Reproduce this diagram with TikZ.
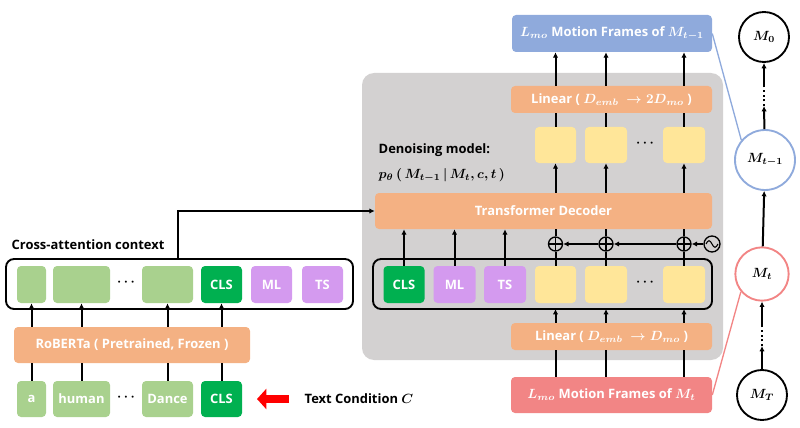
\documentclass[tikz,border=0pt]{standalone}
\usepackage{fontspec}
\setmainfont{Open Sans}
\usetikzlibrary{arrows.meta}

\definecolor{word green}{HTML}{A9D18E}
\definecolor{cls green}{HTML}{00B050}
\definecolor{tag purple}{HTML}{D49AEF}
\definecolor{block orange}{HTML}{F4B183}
\definecolor{frame yellow}{HTML}{FFE699}
\definecolor{noisy red}{HTML}{F28585}
\definecolor{clean blue}{HTML}{8FAADC}
\definecolor{panel gray}{HTML}{D3D1D1}
\tikzset{
  sz/.style 2 args={minimum width=#1*0.75pt, minimum height=#2*0.75pt},
  token/.style={rounded corners=3pt, inner sep=0pt, text=white},
  block/.style={token, fill=block orange},
  group/.style={draw, line width=1.4pt, rounded corners=6pt},
  state/.style={circle, draw, line width=1.4pt, fill=white, inner sep=0pt, minimum size=37.5pt}
  }
\tikzstyle{wire} = [draw, line width=1.5pt, -]
\tikzstyle{feed} = [draw, line width=1.5pt, -{Latex[length=4pt,width=4pt]}]
\tikzstyle{adder} = [circle, draw, line width=1pt, minimum size=10.5pt, inner sep=0pt,
  path picture={\draw[line width=1pt] (path picture bounding box.north) -- (path picture bounding box.south)
    (path picture bounding box.west) -- (path picture bounding box.east);}]
\def\words{{31.5/29/a/a}, {81.5/57/human/human}, {167.5/51/Dance/dance}}
\def\frames{{555.5/41/f1}, {606/42/f2}, {684/42/f3}}

\begin{document}
\begin{tikzpicture}[x=0.75pt, y=-0.75pt, font=\fontsize{9.7}{11}\selectfont\bfseries\boldmath]
    \useasboundingbox (0,0) rectangle (800,428);

    % Denoising panel
    \fill[panel gray, rounded corners=9pt] (362,73) rectangle (723,360);

    % Text condition tokens
    \foreach \x/\w/\word/\name in \words
      \node[token, fill=word green, sz={\w}{36}] (in-\name) at (\x,399) {\word};
    \node[token, fill=cls green, sz={41}{36}] (in-cls) at (221.5,399) {CLS};
    \node (in-dots) at (126,397) {$\cdots$};
    \node[block, sz={236}{36}] (roberta) at (132,345) {RoBERTa ( Pretrained, Frozen )};

    % Cross-attention context
    \draw[group] (6,259) rectangle (353,309);
    \node[anchor=west] (ctx-title) at (7,245) {Cross-attention context};
    \foreach \x/\w/\word/\name in \words
      \node[token, fill=word green, sz={\w}{37}] (ctx-\name) at (\x,284.5) {};
    \node[token, fill=cls green, sz={41}{37}] (ctx-cls) at (221.5,284.5) {CLS};
    \node[token, fill=tag purple, sz={41}{37}] (ctx-ml) at (271.5,284.5) {ML};
    \node[token, fill=tag purple, sz={41}{37}] (ctx-ts) at (322.5,284.5) {TS};
    \node (ctx-dots) at (126,282.5) {$\cdots$};
    \coordinate (ctx-out) at (178,259);

    % Text condition label
    \node[anchor=west] (cond) at (300,399) {Text Condition $C$};
    \coordinate (cond-tail) at (289,399);
    \coordinate (cond-head) at (257,399);

    % Transformer input
    \draw[group] (373,259) rectangle (712,309);
    \node[token, fill=cls green, sz={41}{37}] (in-cls2) at (404,284.5) {CLS};
    \node[token, fill=tag purple, sz={42}{37}] (in-ml) at (454.5,284.5) {ML};
    \node[token, fill=tag purple, sz={42}{37}] (in-ts) at (505,284.5) {TS};
    \foreach \x/\w/\name in \frames
      \node[token, fill=frame yellow, sz={\w}{37}] (in-\name) at (\x,284.5) {};
    \node (in-fdots) at (645,282.5) {$\cdots$};
    \node[block, sz={201}{27}] (lin-in) at (611.5,336.5) {Linear ( $D_{emb}\ \rightarrow D_{mo}$ )};
    \node[token, fill=noisy red, sz={201}{36}] (noisy) at (611.5,395) {$L_{mo}$ Motion Frames of $M_t$};

    % Positional encoding
    \foreach \x/\w/\name in \frames
      \node[adder] (add-\name) at (\x,244) {};
    \node[circle, draw, line width=1pt, minimum size=12pt, inner sep=0pt,
      path picture={\draw[line width=0.8pt] ([xshift=-4.5pt]path picture bounding box.center)
        sin ++(2.25pt,2.5pt) cos ++(2.25pt,-2.5pt) sin ++(2.25pt,-2.5pt) cos ++(2.25pt,2.5pt);}]
      (pe) at (712,244) {};

    % Decoder and output
    \node[block, sz={337}{36}] (decoder) at (543.5,211) {Transformer Decoder};
    \node[anchor=west] (dn-title) at (374,150) {Denoising model:};
    \node[anchor=west] (dn-prob) at (374,175) {$p_\theta\,(\,M_{t-1}\,|\,M_t, c, t\,)$};
    \foreach \x/\w/\name in \frames
      \node[token, fill=frame yellow, sz={\w}{36}] (out-\name) at (\x,145) {};
    \node (out-fdots) at (645,143) {$\cdots$};
    \node[block, sz={201}{27}] (lin-out) at (611.5,99.5) {Linear ( $D_{emb}\ \rightarrow 2D_{mo}$ )};
    \node[token, fill=clean blue, sz={200}{37}] (clean) at (612,33.5) {$L_{mo}$ Motion Frames of $M_{t-1}$};

    % Diffusion chain
    \node[state] (m0) at (764,37) {$M_0$};
    \node[state, draw=clean blue, minimum size=45pt] (mt1) at (765,160) {$M_{t-1}$};
    \node[state, draw=noisy red, minimum size=40pt] (mt) at (762,274) {$M_t$};
    \node[state] (mT) at (762,395) {$M_T$};
    \coordinate (top-a) at (764,106);
    \coordinate (top-b) at (764,86);
    \coordinate (bot-a) at (762,346);
    \coordinate (bot-b) at (762,326);

    % Text encoder connections
    \foreach \name in {a, human, dance, cls} {
      \path[wire] (in-\name) -- (in-\name |- roberta.south);
      \path[feed] (roberta.north -| ctx-\name) -- (ctx-\name);
    }
    \draw[line width=6pt, red, -{Triangle[length=7pt,width=15pt]}] (cond-tail) -- (cond-head);
    \path[feed] (ctx-out) |- (decoder.west);

    % Decoder connections
    \foreach \name in {cls2, ml, ts}
      \path[feed] (in-\name) -- (in-\name |- decoder.south);
    \foreach \x/\w/\name in \frames {
      \path[wire] (noisy.north -| in-\name) -- (lin-in.south -| in-\name);
      \path[feed] (lin-in.north -| in-\name) -- (in-\name |- 0,309);
      \path[wire] (in-\name) -- (add-\name);
      \path[wire] (add-\name) -- (add-\name |- decoder.south);
      \path[feed] (decoder.north -| out-\name) -- (out-\name);
      \path[wire] (out-\name) -- (out-\name |- lin-out.south);
      \path[feed] (lin-out.north -| out-\name) -- (out-\name |- clean.south);
    }
    \path[feed] (pe) -- (add-f3);
    \path[feed] (add-f3) -- (add-f2);
    \path[feed] (add-f2) -- (add-f1);

    % Chain connections
    \path[feed] (mT) -- (bot-a);
    \draw[line width=1.5pt, dotted] (bot-a) -- (bot-b);
    \path[feed] (bot-b) -- (mt);
    \path[feed] (mt) -- (mt1);
    \path[feed] (mt1) -- (top-a);
    \draw[line width=1.5pt, dotted] (top-a) -- (top-b);
    \path[feed] (top-b) -- (m0);
    \draw[clean blue, line width=1pt] (clean.east) -- (mt1.140);
    \draw[noisy red, line width=1pt] (noisy.east) -- (mt.220);
\end{tikzpicture}
\end{document}
